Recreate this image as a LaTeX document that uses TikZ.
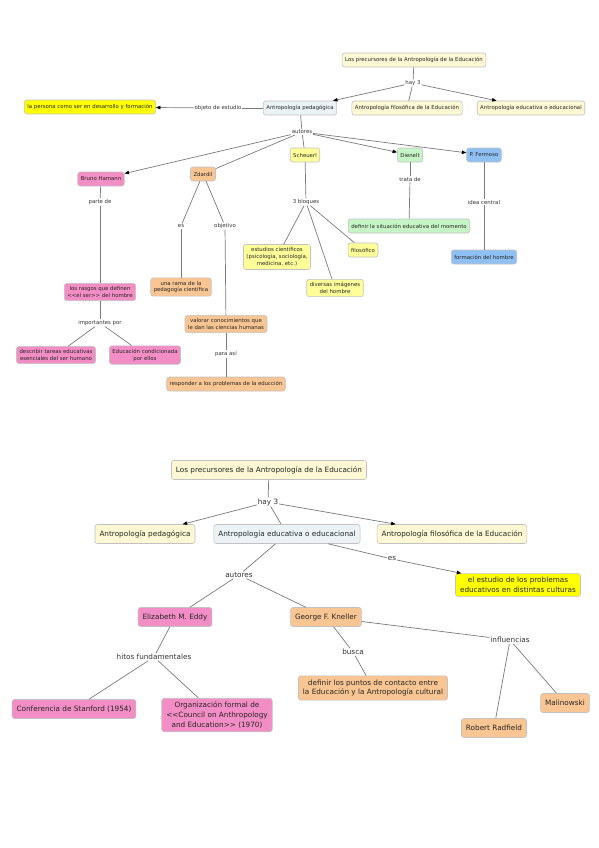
\documentclass[tikz,border=0pt]{standalone}
\usepackage{fontspec}
\setmainfont{DejaVu Sans}[Ligatures=TeXOff]
\usetikzlibrary{arrows.meta}
\definecolor{cream}{HTML}{FBF8D3}
\definecolor{paleblue}{HTML}{EBF3F6}
\definecolor{brightyellow}{HTML}{FFFF00}
\definecolor{pinkbox}{HTML}{F38DC6}
\definecolor{peach}{HTML}{F9C592}
\definecolor{lightyellow}{HTML}{FFFF99}
\definecolor{greenbox}{HTML}{C6F5C6}
\definecolor{bluebox}{HTML}{8FC0F4}
\definecolor{bordergray}{HTML}{C2C2C2}
\definecolor{linegray}{HTML}{7A7A7A}
\tikzset{
  concept/.style={draw=bordergray, line width=0.6bp, rounded corners=2.5bp, align=center, text=black!85},
  tsmall/.style={concept, font=\fontsize{5.4}{7}\selectfont, inner xsep=3bp, inner ysep=3bp, minimum height=14bp},
  tbig/.style={concept, font=\fontsize{7.3}{9.6}\selectfont, inner xsep=4.5bp, inner ysep=3.8bp, minimum height=19bp},
  lsmall/.style={fill=white, inner sep=0.8bp, font=\fontsize{5.4}{7}\selectfont, text=black!80},
  lbig/.style={fill=white, inner sep=0.8bp, font=\fontsize{7.3}{9.6}\selectfont, text=black!80},
  conn/.style={draw=linegray, line width=0.7bp},
  arr/.style={arrows={-{Triangle[length=4.5bp,width=3.5bp,fill=black,color=black]}}},
}
\begin{document}
\begin{tikzpicture}[x=1bp,y=-1bp]
\path[use as bounding box, fill=white] (0,0) rectangle (599,848);

% ===== upper map =====
\node[tsmall, fill=cream] (t1) at (414,60) {Los precursores de la Antropología de la Educación};
\node[lsmall] (h1) at (413,83) {hay 3};
\node[tsmall, fill=paleblue] (ped1) at (300,108) {Antropología pedagógica};
\node[tsmall, fill=cream] (fil1) at (407,108) {Antropología filosófica de la Educación};
\node[tsmall, fill=cream] (edu1) at (531,108) {Antropología educativa o educacional};
\node[tsmall, fill=brightyellow] (per) at (90,107) {la persona como ser en desarrollo y formación};
\node[lsmall] (obj) at (218,108) {objeto de estudio};
\node[lsmall] (aut1) at (302,132) {autores};
\node[tsmall, fill=pinkbox] (bru) at (101,179) {Bruno Hamann};
\node[tsmall, fill=peach] (zda) at (203,174) {Zdardil};
\node[tsmall, fill=lightyellow] (sch) at (305,155) {Scheuerl};
\node[tsmall, fill=greenbox] (die) at (410,155) {Dienelt};
\node[tsmall, fill=bluebox] (fer) at (484,155) {P. Fermoso};

\node[lsmall] (par) at (100,202) {parte de};
\node[tsmall, fill=pinkbox] (ras) at (100,292) {los rasgos que definen\\<<el ser>> del hombre};
\node[lsmall] (imp) at (100,323) {importantes por};
\node[tsmall, fill=pinkbox] (des) at (56,355) {describir tareas educativas\\esenciales del ser humano};
\node[tsmall, fill=pinkbox] (edc) at (145,355) {Educación condicionada\\por ellos};

\node[lsmall] (es1) at (181,226) {es};
\node[lsmall] (obv) at (225,226) {objetivo};
\node[tsmall, fill=peach] (ram) at (181,287) {una rama de la\\pedagogía científica};
\node[tsmall, fill=peach] (val) at (226,324) {valorar conocimientos que\\le dan las ciencias humanas};
\node[lsmall] (pas) at (226,354) {para así};
\node[tsmall, fill=peach] (res) at (226,384) {responder a los problemas de la educción};

\node[lsmall] (blo) at (306,202) {3 bloques};
\node[tsmall, fill=lightyellow] (est) at (277,257) {estudios científicos\\(psicología, sociología,\\medicina, etc.)};
\node[tsmall, fill=lightyellow] (div) at (335,288) {diversas imágenes\\del hombre};
\node[tsmall, fill=lightyellow] (flo) at (363,250) {filosófico};

\node[lsmall] (tra) at (410,179) {trata de};
\node[tsmall, fill=greenbox] (sit) at (409,226) {definir la situación educativa del momento};

\node[lsmall] (ide) at (484,202) {idea central};
\node[tsmall, fill=bluebox] (for) at (484,257) {formación del hombre};

% connectors upper
\draw[conn] (t1) -- (h1);
\draw[conn,arr] (h1) -- (ped1);
\draw[conn] (h1) -- (fil1);
\draw[conn,arr] (h1) -- (edu1);
\draw[conn] (ped1) -- (obj);
\draw[conn,arr] (obj) -- (per);
\draw[conn] (ped1) -- (aut1);
\draw[conn,arr] (aut1) -- (bru);
\draw[conn] (aut1) -- (zda);
\draw[conn] (aut1) -- (sch);
\draw[conn,arr] (aut1) -- (die);
\draw[conn,arr] (aut1) -- (fer);
\draw[conn] (bru) -- (par);
\draw[conn] (par) -- (ras);
\draw[conn] (ras) -- (imp);
\draw[conn] (imp) -- (des);
\draw[conn] (imp) -- (edc);
\draw[conn] (zda) -- (es1);
\draw[conn] (es1) -- (ram);
\draw[conn] (zda) -- (obv);
\draw[conn] (obv) -- (val);
\draw[conn] (val) -- (pas);
\draw[conn] (pas) -- (res);
\draw[conn] (sch) -- (blo);
\draw[conn] (blo) -- (est);
\draw[conn] (blo) -- (div);
\draw[conn] (blo) -- (flo);
\draw[conn] (die) -- (tra);
\draw[conn] (tra) -- (sit);
\draw[conn] (fer) -- (ide);
\draw[conn] (ide) -- (for);

% ===== lower map =====
\node[tbig, fill=cream] (t2) at (269,470) {Los precursores de la Antropología de la Educación};
\node[lbig] (h2) at (268,502) {hay 3};
\node[tbig, fill=cream] (ped2) at (145,534) {Antropología pedagógica};
\node[tbig, fill=paleblue] (edu2) at (287,534) {Antropología educativa o educacional};
\node[tbig, fill=cream] (fil2) at (452,534) {Antropología filosófica de la Educación};
\node[lbig] (es2) at (392,559) {es};
\node[tbig, fill=brightyellow] (estu) at (518,585) {el estudio de los problemas\\educativos en distintas culturas};
\node[lbig] (aut2) at (239,575) {autores};
\node[tbig, fill=pinkbox] (eli) at (175,617) {Elizabeth M. Eddy};
\node[tbig, fill=peach] (geo) at (326,617) {George F. Kneller};
\node[lbig] (hit) at (154,657) {hitos fundamentales};
\node[tbig, fill=pinkbox] (con) at (74,709) {Conferencia de Stanford (1954)};
\node[tbig, fill=pinkbox] (org) at (217,715) {Organización formal de\\<<Council on Anthropology\\and Education>> (1970)};
\node[lbig] (bus) at (353,652) {busca};
\node[tbig, fill=peach] (pun) at (373,688) {definir los puntos de contacto entre\\la Educación y la Antropología cultural};
\node[lbig] (inf) at (510,640) {influencias};
\node[tbig, fill=peach] (mal) at (565,703) {Malinowski};
\node[tbig, fill=peach] (rad) at (494,728) {Robert Radfield};

% connectors lower
\draw[conn] (t2) -- (h2);
\draw[conn,arr] (h2) -- (ped2);
\draw[conn] (h2) -- (edu2);
\draw[conn,arr] (h2) -- (fil2);
\draw[conn] (edu2) -- (es2);
\draw[conn,arr] (es2) -- (estu);
\draw[conn] (edu2) -- (aut2);
\draw[conn] (aut2) -- (eli);
\draw[conn] (aut2) -- (geo);
\draw[conn] (eli) -- (hit);
\draw[conn] (hit) -- (con);
\draw[conn] (hit) -- (org);
\draw[conn] (geo) -- (bus);
\draw[conn] (bus) -- (pun);
\draw[conn] (geo) -- (inf);
\draw[conn] (inf) -- (mal);
\draw[conn] (inf) -- (rad);
\end{tikzpicture}
\end{document}
